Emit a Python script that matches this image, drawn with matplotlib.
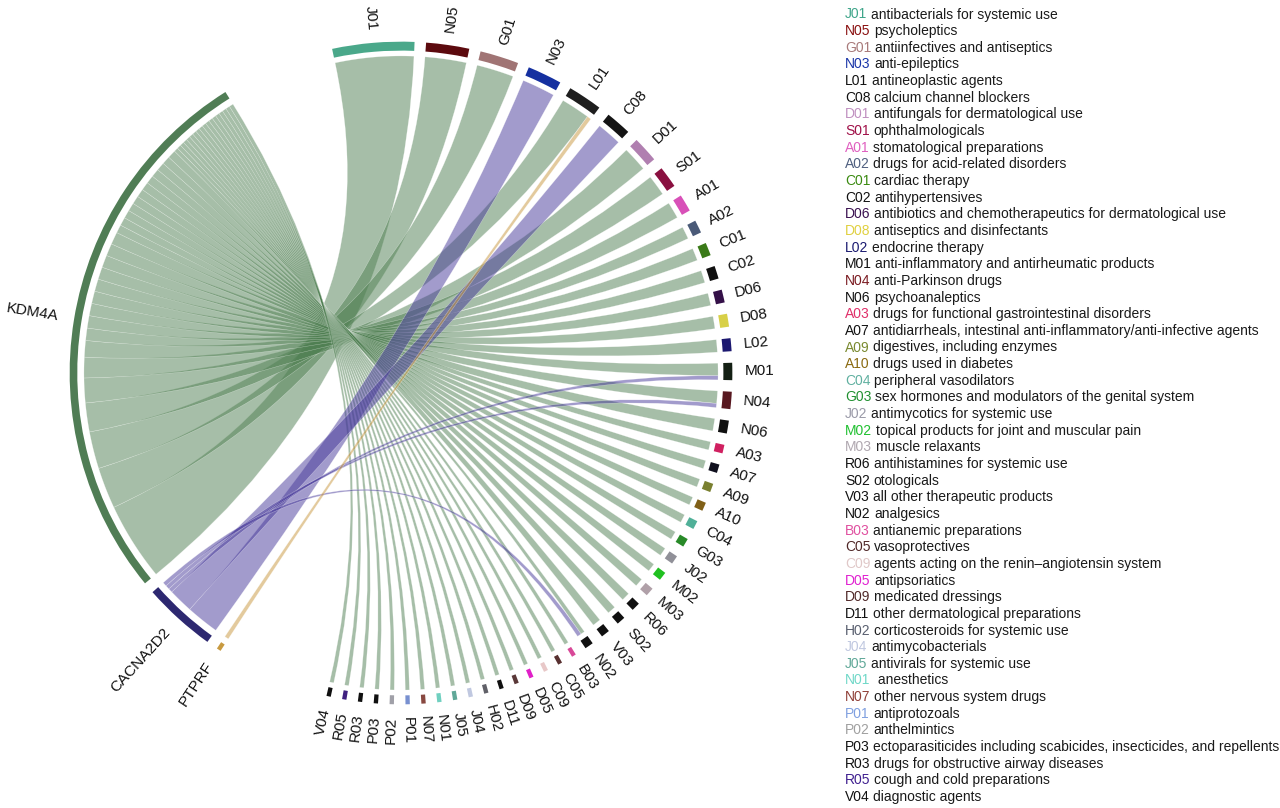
import numpy as np
import matplotlib
matplotlib.use('Agg')
import matplotlib.pyplot as plt
from matplotlib.path import Path
from matplotlib.patches import PathPatch, Wedge

plt.rcParams['font.family'] = ['Liberation Sans', 'DejaVu Sans']

# ---------------- data ----------------
genes = ['KDM4A', 'CACNA2D2', 'PTPRF']
gene_colors = ['#507d55', '#2d2870', '#c89a40']
link_colors = ['#4f7f52', '#46389a', '#c8963c']

drug_codes = ['J01', 'N05', 'G01', 'N03', 'L01', 'C08', 'D01', 'S01', 'A01', 'A02',
              'C01', 'C02', 'D06', 'D08', 'L02', 'M01', 'N04', 'N06', 'A03', 'A07',
              'A09', 'A10', 'C04', 'G03', 'J02', 'M02', 'M03', 'R06', 'S02', 'V03',
              'N02', 'B03', 'C05', 'C09', 'D05', 'D09', 'D11', 'H02', 'J04', 'J05',
              'N01', 'N07', 'P01', 'P02', 'P03', 'R03', 'R05', 'V04']

drug_desc = ['antibacterials for systemic use', 'psycholeptics', 'antiinfectives and antiseptics',
             'anti-epileptics', 'antineoplastic agents', 'calcium channel blockers',
             'antifungals for dermatological use', 'ophthalmologicals', 'stomatological preparations',
             'drugs for acid-related disorders', 'cardiac therapy', 'antihypertensives',
             'antibiotics and chemotherapeutics for dermatological use', 'antiseptics and disinfectants',
             'endocrine therapy', 'anti-inflammatory and antirheumatic products', 'anti-Parkinson drugs',
             'psychoanaleptics', 'drugs for functional gastrointestinal disorders',
             'antidiarrheals, intestinal anti-inflammatory/anti-infective agents',
             'digestives, including enzymes', 'drugs used in diabetes', 'peripheral vasodilators',
             'sex hormones and modulators of the genital system', 'antimycotics for systemic use',
             'topical products for joint and muscular pain', 'muscle relaxants',
             'antihistamines for systemic use', 'otologicals', 'all other therapeutic products',
             'analgesics', 'antianemic preparations', 'vasoprotectives',
             'agents acting on the renin\u2013angiotensin system', 'antipsoriatics', 'medicated dressings',
             'other dermatological preparations', 'corticosteroids for systemic use', 'antimycobacterials',
             'antivirals for systemic use', ' anesthetics', 'other nervous system drugs', 'antiprotozoals',
             'anthelmintics', 'ectoparasiticides including scabicides, insecticides, and repellents',
             'drugs for obstructive airway diseases', 'cough and cold preparations', 'diagnostic agents']

bar_colors = ['#4aa88a', '#5c0a0e', '#a07474', '#1530a0', '#1e1e1e', '#141414', '#b07fb0', '#8a1040',
              '#d850b8', '#4a5a78', '#3a7a18', '#101010', '#341048', '#d8d048', '#1c1870', '#142014',
              '#581820', '#101010', '#d02060', '#10101e', '#7a8030', '#806018', '#50b098', '#288a28',
              '#909098', '#20c020', '#b0a0a8', '#101010', '#101010', '#101010', '#101010', '#d84898',
              '#583030', '#e8c8c8', '#e020c8', '#5a3838', '#101010', '#606068', '#c0c8e0', '#60a898',
              '#70d0c0', '#884840', '#7890d0', '#a0a0a8', '#101010', '#101010', '#402080', '#101010']

legend_colors = ['#3fa58a', '#8a1010', '#a87a7a', '#1a35a8', '#111111', '#111111', '#c090c0', '#a01048',
                 '#e060c0', '#506080', '#3a8a10', '#111111', '#3a1050', '#e0d040', '#1a1a70', '#111111',
                 '#7a1a20', '#111111', '#e0306a', '#111111', '#7a8a30', '#8a6a10', '#60b0a0', '#209030',
                 '#9a9aa8', '#20c030', '#b0a8b0', '#111111', '#111111', '#111111', '#111111', '#e050a0',
                 '#502828', '#e0c8c8', '#e020d0', '#502828', '#111111', '#5a6070', '#c0c8e0', '#60a898',
                 '#70d8c8', '#904038', '#80a0e0', '#a0a0a0', '#111111', '#111111', '#402090', '#111111']

# links per drug class to each gene
kdm4a =    [19, 10, 9, 0, 7, 0, 6, 5, 4, 3, 3, 3, 3, 3, 3, 3, 3, 3, 2, 2, 2, 2, 2, 2,
            2, 2, 2, 2, 2, 2, 1, 1, 1, 1, 1, 1, 1, 1, 1, 1, 1, 1, 1, 1, 1, 1, 1, 1]
cacna2d2 = [0, 0, 0, 8, 0, 6, 0, 0, 0, 0, 0, 0, 0, 0, 0, 1, 1, 0, 0, 0, 0, 0, 0, 0,
            0, 0, 0, 0, 0, 0, 1, 0, 0, 0, 0, 0, 0, 0, 0, 0, 0, 0, 0, 0, 0, 0, 0, 0]
ptprf =    [0, 0, 0, 0, 1, 0, 0, 0, 0, 0, 0, 0, 0, 0, 0, 0, 0, 0, 0, 0, 0, 0, 0, 0,
            0, 0, 0, 0, 0, 0, 0, 0, 0, 0, 0, 0, 0, 0, 0, 0, 0, 0, 0, 0, 0, 0, 0, 0]

# ---------------- layout ----------------
links = np.array([kdm4a, cacna2d2, ptprf], dtype=float)
drug_tot = links.sum(axis=0)
gene_tot = links.sum(axis=1)
gap = 2.0
big_gap = 20.0
n_sec = len(drug_codes) + len(genes)
unit = (360 - 2 * big_gap - (n_sec - 2) * gap) / (2 * links.sum())
start_angle = 102.0

drug_hi, drug_lo = [], []
a = start_angle
for v in drug_tot:
    drug_hi.append(a)
    a -= v * unit
    drug_lo.append(a)
    a -= gap
a += gap
a -= big_gap
gene_hi, gene_lo = [0] * 3, [0] * 3
for g in [2, 1, 0]:
    gene_hi[g] = a
    a -= gene_tot[g] * unit
    gene_lo[g] = a
    a -= gap

# link positions (clockwise within each sector)
drug_cursor = list(drug_hi)
gene_cursor = list(gene_hi)
link_list = []
for i in range(len(drug_codes)):
    for g in range(3):
        v = links[g, i]
        if v > 0:
            d1 = drug_cursor[i]; d0 = d1 - v * unit; drug_cursor[i] = d0
            link_list.append([g, i, d0, d1, v])
for g in range(3):
    for item in link_list:
        if item[0] == g:
            v = item[4]
            g1 = gene_cursor[g]; g0 = g1 - v * unit; gene_cursor[g] = g0
            item.extend([g0, g1])

# ---------------- figure ----------------
W, H = 1280, 808
fig = plt.figure(figsize=(12.8, 8.08), dpi=100)
cx, cy, R = 401, 373, 332
half = 1.25 * R
ax = fig.add_axes([(cx - half) / W, (H - cy - half) / H, 2 * half / W, 2 * half / H])
ax.set_xlim(-1.25, 1.25)
ax.set_ylim(-1.25, 1.25)
ax.axis('off')

r_link = 0.955
r_out = 0.998
r_w = 0.027


def arc_pts(t0, t1, r, n=40):
    t = np.radians(np.linspace(t0, t1, n))
    return np.column_stack([r * np.cos(t), r * np.sin(t)])


for g in range(3):
    for item in link_list:
        if item[0] != g:
            continue
        _, i, d0, d1, v, g0, g1 = item
        a1 = arc_pts(d0, d1, r_link)
        a2 = arc_pts(g0, g1, r_link)
        verts = list(a1) + [(0, 0), a2[0]] + list(a2[1:]) + [(0, 0), a1[0], a1[0]]
        codes = ([Path.MOVETO] + [Path.LINETO] * (len(a1) - 1) + [Path.CURVE3, Path.CURVE3]
                 + [Path.LINETO] * (len(a2) - 1) + [Path.CURVE3, Path.CURVE3, Path.CLOSEPOLY])
        patch = PathPatch(Path(verts, codes), facecolor=link_colors[g], alpha=0.5,
                          edgecolor='white', lw=0.3)
        ax.add_patch(patch)

# tracks
for i in range(len(drug_codes)):
    ax.add_patch(Wedge((0, 0), r_out, drug_lo[i], drug_hi[i], width=r_w,
                       facecolor=bar_colors[i], edgecolor='none'))
for g in range(3):
    ax.add_patch(Wedge((0, 0), r_out, gene_lo[g], gene_hi[g], width=r_w * 0.85,
                       facecolor=gene_colors[g], edgecolor='none'))


def put_label(txt, ang, r=1.035, size=11):
    rot = ang % 360
    x = r * np.cos(np.radians(rot)); y = r * np.sin(np.radians(rot))
    if 90 < rot < 270:
        ax.text(x, y, txt, rotation=rot - 180, rotation_mode='anchor', ha='right', va='center',
                fontsize=size, color='#111111')
    else:
        ax.text(x, y, txt, rotation=rot if rot <= 90 else rot - 360, rotation_mode='anchor',
                ha='left', va='center', fontsize=size, color='#111111')


for i, c in enumerate(drug_codes):
    put_label(c, (drug_hi[i] + drug_lo[i]) / 2)
for g in range(3):
    put_label(genes[g], (gene_hi[g] + gene_lo[g]) / 2, r=1.045)

# legend
lax = fig.add_axes([0, 0, 1, 1])
lax.set_xlim(0, W)
lax.set_ylim(H, 0)
lax.axis('off')
y0, dy = 14.5, 16.65
for i, (c, d) in enumerate(zip(drug_codes, drug_desc)):
    t = lax.text(845, y0 + i * dy, c, color=legend_colors[i], fontsize=10, va='center', ha='left')
    lax.annotate(d, xy=(1, 0.5), xycoords=t, xytext=(3.5, 0), textcoords='offset pixels',
                 va='center', ha='left', fontsize=10, color='#1a1a1a')

fig.savefig('out.png', dpi=100)
